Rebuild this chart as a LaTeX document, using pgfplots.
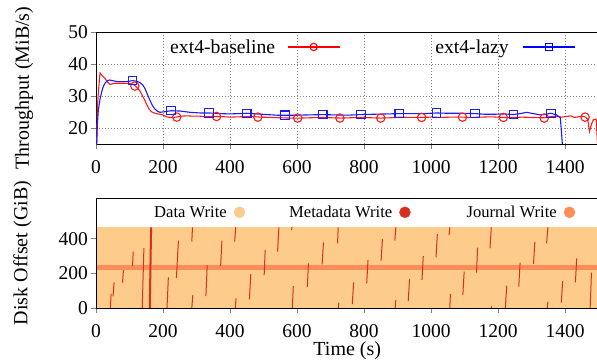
\documentclass[border=0pt]{standalone}
\usepackage{fontspec}
\setmainfont{Liberation Serif}
\usepackage{pgfplots}
\pgfplotsset{compat=1.18}
\definecolor{dataw}{HTML}{FDCC8A}
\definecolor{metaw}{HTML}{D7301F}
\definecolor{jourw}{HTML}{FC8D59}
\definecolor{lred}{HTML}{FF1A1A}
\definecolor{lblue}{HTML}{1A1AFF}
\pgfplotsset{
  common/.style={
    scale only axis, width=502.5pt,
    xmin=0, xmax=1500,
    xtick={0,200,...,1400},
    xtick pos=left, ytick pos=left, tick align=outside,
    major tick length=4.5pt,
    every tick/.style={gray, line width=1pt},
    axis line style={line width=0.9pt},
    tick label style={font=\fontsize{19.5pt}{23pt}\selectfont},
    xticklabel style={yshift=-8pt},
    label style={font=\fontsize{20pt}{24pt}\selectfont},
    /pgf/number format/assume math mode=true,
    /pgf/number format/1000 sep={},
    legend plot pos=right,
  }
}
\begin{document}
\begin{tikzpicture}
\useasboundingbox (0pt,0pt) rectangle (597pt,360pt);
% ---------------- top: throughput
\begin{axis}[common,
  at={(96pt,216pt)}, anchor=south west, height=112pt,
  ymin=15, ymax=50, ytick={20,30,40,50},
  grid=major, major grid style={gray, line width=0.9pt, dash pattern=on 1pt off 2pt},
  ylabel={Throughput (MiB/s)},
  ylabel style={at={(axis description cs:-0.1433,0.5)}, anchor=center},
  legend columns=2,
  legend style={draw=none, fill=none, at={(axis description cs:0.1373,0.862)}, anchor=west,
    font=\fontsize{19.7pt}{23pt}\selectfont,
    /tikz/column 1/.style={column sep=10pt},
    /tikz/column 2/.style={column sep=93pt},
    /tikz/column 3/.style={column sep=12pt}},
]
\addlegendimage{legend image code/.code={%
  \draw[red, line width=1.1pt] (0pt,0.5pt) -- (52pt,0.5pt);
  \draw[red, line width=1.1pt] (26pt,0.5pt) circle (3.7pt);}}
\addlegendentry{ext4-baseline}
\addlegendimage{legend image code/.code={%
  \draw[blue, line width=1.1pt] (0pt,0.5pt) -- (52pt,0.5pt);
  \draw[blue, line width=1.1pt] (22.3pt,-3.2pt) rectangle (29.7pt,4.2pt);}}
\addlegendentry{ext4-lazy}
% baseline line
\addplot[lred, line width=1.1pt, forget plot] coordinates {
(0,15) (2,15) (4,26) (7,31) (12,37.2) (20,36.2) (27,35.5) (35,34.3) (42,33.6) (52,33.9) (62,34.0) (80,34.0) (100,33.9) (112,33.6) (122,32.7) (131,31.6) (140,29.8) (146,28.6) (153,27.0) (159,25.8) (167,25.0) (176,24.6) (186,24.4) (196,24.2) (205,23.8) (213,23.4) (225,23.3) (239,23.4) (255,23.7) (271,23.8) (290,23.7) (310,23.7) (330,23.5) (350,23.6) (370,23.6) (400,23.4) (430,23.5) (460,23.6) (490,23.4) (520,23.3) (550,23.2) (580,23.1) (610,23.1) (640,23.2) (670,23.3) (700,23.2) (730,23.1) (760,23.2) (790,23.3) (820,23.2) (850,23.1) (880,23.2) (910,23.4) (940,23.3) (972,23.3) (1000,23.4) (1030,23.3) (1060,23.4) (1094,23.4) (1120,23.3) (1150,23.4) (1180,23.5) (1216,23.3) (1240,23.2) (1270,23.4) (1300,23.3) (1338,23.2) (1355,23.5) (1372,23.7) (1390,23.4) (1405,23.6) (1418,23.8) (1428,23.3) (1440,23.5) (1452,23.7) (1462,23.4) (1468,22.6) (1473,18.9) (1480,21.5) (1485,22.6) (1493,22.8) (1497,15)
};
\addplot[lred, only marks, mark=o, mark size=4.2pt, line width=1.1pt, forget plot] coordinates {
(116,33.1) (241,23.4) (360,23.6) (483,23.4) (602,23.1) (728,23.1) (850,23.1) (972,23.3) (1094,23.4) (1216,23.3) (1338,23.1) (1460,23.4)
};
% lazy line
\addplot[lblue, line width=1.1pt, forget plot] coordinates {
(0,15) (2,15) (4,21) (7,25.6) (12,29) (17,31.3) (22,33) (27,34) (33,34.7) (40,35.0) (50,34.8) (62,34.5) (80,34.5) (92,34.5) (109,34.8) (122,34.6) (131,34.2) (139,33.5) (146,32.4) (153,30.6) (161,28.7) (168,27.1) (176,25.9) (184,25.2) (191,24.9) (206,25.1) (224,25.4) (251,25.3) (281,24.9) (310,24.7) (337,24.7) (370,24.5) (400,24.4) (425,24.5) (450,24.6) (480,24.4) (510,24.2) (540,24.0) (564,24.0) (600,24.0) (640,24.1) (677,24.2) (710,24.1) (750,24.0) (791,24.2) (830,24.3) (870,24.4) (905,24.5) (940,24.5) (980,24.5) (1017,24.7) (1050,24.6) (1090,24.6) (1131,24.5) (1160,24.3) (1190,24.3) (1220,24.4) (1246,24.2) (1266,24.5) (1286,24.9) (1305,24.5) (1325,24.1) (1342,24.3) (1358,24.6) (1375,24.1) (1386,23.2) (1390,18) (1392,15)
};
\addplot[lblue, only marks, mark=square, mark size=4.2pt, line width=1.1pt, forget plot] coordinates {
(109,34.8) (224,25.4) (337,24.7) (450,24.6) (564,24.0) (677,24.2) (791,24.2) (905,24.5) (1017,24.7) (1131,24.5) (1246,24.2) (1358,24.6)
};
\end{axis}
% ---------------- bottom: disk offset
\begin{axis}[common,
  at={(96pt,52pt)}, anchor=south west, height=110pt,
  ymin=0, ymax=635, ytick={0,200,400},
  axis on top,
  xlabel={Time (s)},
  xlabel style={at={(axis description cs:0.5,-0.391)}, anchor=center},
  ylabel={Disk Offset (GiB)},
  ylabel style={at={(axis description cs:-0.1463,0.5)}, anchor=center},
  legend columns=3,
  legend image code/.code={\fill[#1] (5.5pt,0pt) circle (5.5pt);},
  legend style={draw=none, fill=none, at={(axis description cs:0.1055,0.87)}, anchor=west,
    font=\fontsize{16.6pt}{20pt}\selectfont,
    /tikz/column 1/.style={column sep=5pt},
    /tikz/column 2/.style={column sep=42pt},
    /tikz/column 3/.style={column sep=5pt},
    /tikz/column 4/.style={column sep=54pt},
    /tikz/column 5/.style={column sep=5pt}},
]
\addlegendimage{dataw}
\addlegendentry{Data Write}
\addlegendimage{metaw}
\addlegendentry{Metadata Write}
\addlegendimage{jourw}
\addlegendentry{Journal Write}
\addplot[draw=none, fill=dataw, forget plot] coordinates {(0,466) (1500,466)} \closedcycle;
\addplot[jourw, line width=4.3pt, forget plot] coordinates {(0,233) (1500,233)};
\addplot[metaw, line width=1.0pt, unbounded coords=jump, forget plot] coordinates {
(43,0) (45,81) (nan,nan)
(51,67) (54,148) (nan,nan)
(79,146) (82,219) (nan,nan)
(109,242) (111,325) (nan,nan)
(138,0) (143,346) (nan,nan)
(159,0) (163,466) (nan,nan)
(162,0) (166,466) (nan,nan)
(212,0) (216,177) (nan,nan)
(240,172) (246,389) (nan,nan)
(286,383) (288,466) (nan,nan)
(286,0) (289,75) (nan,nan)
(328,69) (332,248) (nan,nan)
(372,242) (376,389) (nan,nan)
(414,383) (417,466) (nan,nan)
(416,0) (418,56) (nan,nan)
(458,50) (462,195) (nan,nan)
(502,190) (505,335) (nan,nan)
(542,325) (546,466) (nan,nan)
(584,450) (585,466) (nan,nan)
(586,0) (589,127) (nan,nan)
(631,120) (634,258) (nan,nan)
(675,252) (679,379) (nan,nan)
(721,373) (723,466) (nan,nan)
(723,0) (725,31) (nan,nan)
(765,23) (769,148) (nan,nan)
(808,142) (812,277) (nan,nan)
(851,273) (855,397) (nan,nan)
(892,389) (895,466) (nan,nan)
(893,0) (895,46) (nan,nan)
(932,40) (936,166) (nan,nan)
(973,162) (977,300) (nan,nan)
(1015,293) (1019,427) (nan,nan)
(1054,421) (1056,466) (nan,nan)
(1056,0) (1058,81) (nan,nan)
(1095,75) (1099,210) (nan,nan)
(1136,204) (1139,348) (nan,nan)
(1176,345) (1180,466) (nan,nan)
(1180,0) (1181,10) (nan,nan)
(1222,0) (1226,129) (nan,nan)
(1262,123) (1266,262) (nan,nan)
(1306,254) (1310,381) (nan,nan)
(1345,373) (1349,466) (nan,nan)
(1347,0) (1349,36) (nan,nan)
(1389,31) (1393,156) (nan,nan)
(1431,148) (1435,287) (nan,nan)
(1475,0) (1479,204)
};
\end{axis}
\end{tikzpicture}
\end{document}
